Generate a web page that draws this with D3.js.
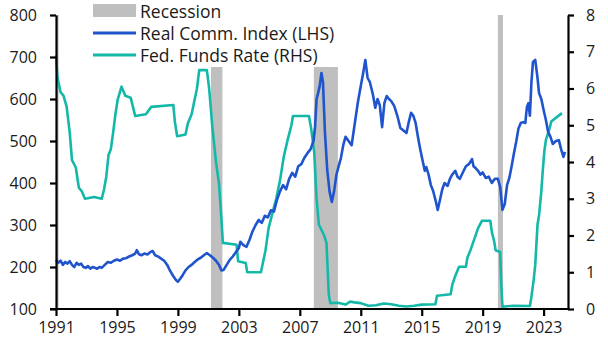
<!DOCTYPE html>
<html><head><meta charset="utf-8">
<script src="https://cdn.jsdelivr.net/npm/d3@7"></script>
<style>body{margin:0;background:#fff}svg{display:block}text{font-family:"Open Sans",sans-serif;fill:#1a1a1a}</style>
</head><body>
<svg id="c" width="608" height="355"></svg>
<script>
// Recession periods (decimal years)
const recessions = [[1990.5, 1991.17], [2001.17, 2001.92], [2007.92, 2009.5], [2020.0, 2020.33]];
// Real commodity index (LHS)
const rciDates = [1991.0,1991.15,1991.3,1991.45,1991.6,1991.75,1991.9,1992.05,1992.2,1992.35,1992.5,1992.65,1992.8,1992.95,1993.1,1993.25,1993.4,1993.55,1993.7,1993.85,1994.0,1994.2,1994.4,1994.6,1994.8,1995.0,1995.2,1995.4,1995.6,1995.8,1996.0,1996.2,1996.3,1996.45,1996.6,1996.8,1997.0,1997.2,1997.35,1997.5,1997.7,1997.9,1998.1,1998.3,1998.5,1998.7,1998.85,1999.0,1999.15,1999.3,1999.5,1999.7,1999.9,2000.1,2000.3,2000.5,2000.7,2000.9,2001.1,2001.3,2001.5,2001.7,2001.85,2002.0,2002.2,2002.4,2002.6,2002.8,2003.0,2003.1,2003.3,2003.5,2003.7,2003.9,2004.1,2004.3,2004.5,2004.7,2004.9,2005.1,2005.3,2005.5,2005.7,2005.9,2006.1,2006.3,2006.5,2006.7,2006.9,2007.1,2007.3,2007.5,2007.7,2007.9,2008.0,2008.1,2008.2,2008.3,2008.42,2008.52,2008.65,2008.8,2008.95,2009.1,2009.25,2009.4,2009.55,2009.7,2009.85,2010.0,2010.2,2010.4,2010.6,2010.8,2010.95,2011.15,2011.3,2011.45,2011.6,2011.8,2011.95,2012.1,2012.25,2012.4,2012.55,2012.7,2012.85,2013.0,2013.2,2013.4,2013.6,2013.8,2014.0,2014.15,2014.3,2014.45,2014.6,2014.75,2014.9,2015.05,2015.2,2015.3,2015.45,2015.6,2015.75,2015.9,2016.05,2016.2,2016.35,2016.5,2016.7,2016.85,2017.0,2017.2,2017.35,2017.5,2017.7,2017.9,2018.1,2018.3,2018.4,2018.55,2018.7,2018.85,2019.0,2019.2,2019.4,2019.6,2019.8,2020.0,2020.15,2020.3,2020.45,2020.6,2020.75,2020.9,2021.05,2021.2,2021.35,2021.5,2021.65,2021.8,2021.9,2022.0,2022.1,2022.2,2022.3,2022.45,2022.6,2022.7,2022.85,2023.0,2023.15,2023.3,2023.45,2023.6,2023.8,2024.0,2024.15,2024.3,2024.4];
const rciValues = [217,210,215,205,212,208,214,205,200,210,205,208,200,198,202,196,200,198,196,200,198,205,212,210,215,218,215,220,221,225,228,232,240,230,228,232,230,236,238,228,225,220,215,205,190,178,170,165,172,180,192,200,205,212,218,222,228,233,228,222,215,205,192,193,205,217,225,235,245,260,252,248,265,285,300,312,305,322,318,335,332,360,380,395,385,410,424,415,440,445,460,471,480,500,533,600,614,630,662,640,520,431,380,355,380,419,440,460,490,510,500,490,540,590,621,660,693,650,640,610,579,600,585,533,590,607,600,595,583,560,531,525,519,545,567,560,543,510,481,455,429,438,420,395,381,360,336,360,385,400,393,410,420,429,415,410,425,440,445,457,440,435,429,420,425,412,415,400,410,410,390,336,350,395,412,440,470,498,530,543,545,543,580,590,560,640,688,693,650,614,600,574,550,521,510,493,500,502,480,462,474];
// Fed funds rate (RHS, %)
const ffrDates = [1991.0,1991.1,1991.3,1991.5,1991.7,1991.9,1992.05,1992.3,1992.5,1992.7,1992.9,1993.5,1994.0,1994.15,1994.3,1994.45,1994.6,1994.75,1994.9,1995.05,1995.3,1995.55,1995.9,1996.05,1996.2,1996.9,1997.25,1998.7,1998.8,1998.95,1999.5,1999.65,1999.9,2000.1,2000.25,2000.4,2000.9,2001.05,2001.25,2001.5,2001.7,2001.85,2001.95,2002.85,2002.95,2003.45,2003.55,2004.45,2004.6,2004.75,2004.95,2005.2,2005.45,2005.7,2005.95,2006.2,2006.45,2006.55,2007.6,2007.75,2007.95,2008.1,2008.25,2008.6,2008.75,2008.9,2009.0,2009.5,2010.0,2010.3,2010.6,2011.0,2011.5,2012.0,2012.5,2013.0,2013.5,2014.0,2014.5,2015.0,2015.9,2016.0,2016.9,2017.0,2017.2,2017.45,2017.9,2018.0,2018.2,2018.45,2018.7,2018.95,2019.5,2019.6,2019.75,2019.85,2020.15,2020.22,2020.3,2021.0,2022.1,2022.2,2022.35,2022.45,2022.6,2022.7,2022.85,2022.95,2023.05,2023.15,2023.35,2023.5,2024.2];
const ffrValues = [6.9,6.3,5.9,5.8,5.5,4.8,4.05,3.85,3.3,3.2,3.0,3.05,3.0,3.25,3.6,4.2,4.35,4.8,5.3,5.7,6.05,5.8,5.75,5.5,5.25,5.3,5.5,5.55,5.1,4.7,4.75,5.05,5.3,5.7,6.0,6.5,6.5,6.0,5.0,4.0,3.4,2.5,1.8,1.75,1.3,1.25,1.0,1.0,1.3,1.6,2.2,2.6,3.0,3.5,4.15,4.6,5.0,5.25,5.25,4.9,4.25,3.0,2.3,2.0,1.8,0.4,0.16,0.17,0.12,0.2,0.18,0.16,0.09,0.1,0.15,0.13,0.09,0.07,0.09,0.12,0.13,0.36,0.4,0.65,0.9,1.15,1.15,1.4,1.6,1.9,2.2,2.4,2.4,2.1,1.85,1.6,1.55,0.65,0.06,0.09,0.08,0.33,0.8,1.2,2.3,2.55,3.2,3.8,4.3,4.6,4.85,5.1,5.33,5.33];
const leftTicks = [100,200,300,400,500,600,700,800];
const rightTicks = [0,1,2,3,4,5,6,7,8];
const yearTicks = [1991,1995,1999,2003,2007,2011,2015,2019,2023];
const legendLabels = ["Recession", "Real Comm. Index (LHS)", "Fed. Funds Rate (RHS)"];

const BLUE = "#2054cc", TEAL = "#14b8a8", GREY = "#bfbfbf";
const svg = d3.select("#c");
const x = d3.scaleLinear().domain([1991, 2024.6]).range([56, 568]);
const yL = d3.scaleLinear().domain([100, 800]).range([309, 15]);
const yR = d3.scaleLinear().domain([0, 8]).range([309, 15]);

// recession bars
svg.append("g").selectAll("rect").data(recessions).join("rect")
  .attr("x", d => x(Math.max(d[0], 1991)))
  .attr("width", d => x(d[1]) - x(Math.max(d[0], 1991)))
  .attr("y", yL(800)).attr("height", yL(100) - yL(800))
  .attr("fill", GREY);

// legend background
svg.append("rect").attr("x", 86).attr("y", 0).attr("width", 262).attr("height", 67).attr("fill", "#fff");

const rci = rciDates.map((d, i) => [d, rciValues[i]]);
const ffr = ffrDates.map((d, i) => [d, ffrValues[i]]);
svg.append("path").datum(ffr).attr("fill", "none").attr("stroke", TEAL).attr("stroke-width", 2.6)
  .attr("stroke-linejoin", "round")
  .attr("d", d3.line().x(d => x(d[0])).y(d => yR(d[1])));
svg.append("path").datum(rci).attr("fill", "none").attr("stroke", BLUE).attr("stroke-width", 2.6)
  .attr("stroke-linejoin", "round")
  .attr("d", d3.line().x(d => x(d[0])).y(d => yL(d[1])));

// axes
function styleAxis(g) {
  g.selectAll("path").attr("stroke", "#000").attr("stroke-width", 2.2);
  g.selectAll("line").attr("stroke", "#000").attr("stroke-width", 2.2);
  g.selectAll("text").attr("font-size", 16).attr("fill", "#1a1a1a").attr("font-family", "Open Sans, sans-serif");
}
svg.append("g").attr("transform", "translate(56,0)")
  .call(d3.axisLeft(yL).tickValues(leftTicks).tickSize(6).tickSizeOuter(0).tickPadding(13).tickFormat(d3.format("d")))
  .call(styleAxis);
svg.append("g").attr("transform", "translate(568,0)")
  .call(d3.axisRight(yR).tickValues(rightTicks).tickSize(6).tickSizeOuter(0).tickPadding(12).tickFormat(d3.format("d")))
  .call(styleAxis);
svg.append("g").attr("transform", "translate(0,309)")
  .call(d3.axisBottom(x).tickValues(yearTicks).tickSize(7).tickSizeOuter(0).tickPadding(6).tickFormat(d3.format("d")))
  .call(g => g.select("path").attr("d", "M50,0H568"))
  .call(styleAxis);

// legend
const lg = svg.append("g");
lg.append("rect").attr("x", 93).attr("y", 4).attr("width", 43).attr("height", 13).attr("fill", GREY);
lg.append("line").attr("x1", 93).attr("x2", 136).attr("y1", 33).attr("y2", 33).attr("stroke", BLUE).attr("stroke-width", 3);
lg.append("line").attr("x1", 93).attr("x2", 136).attr("y1", 55).attr("y2", 55).attr("stroke", TEAL).attr("stroke-width", 3);
lg.selectAll("text").data(legendLabels).join("text")
  .attr("x", 140).attr("y", (d, i) => 17.5 + i * 22.3).attr("font-size", 17.5).text(d => d);
</script>
</body></html>
